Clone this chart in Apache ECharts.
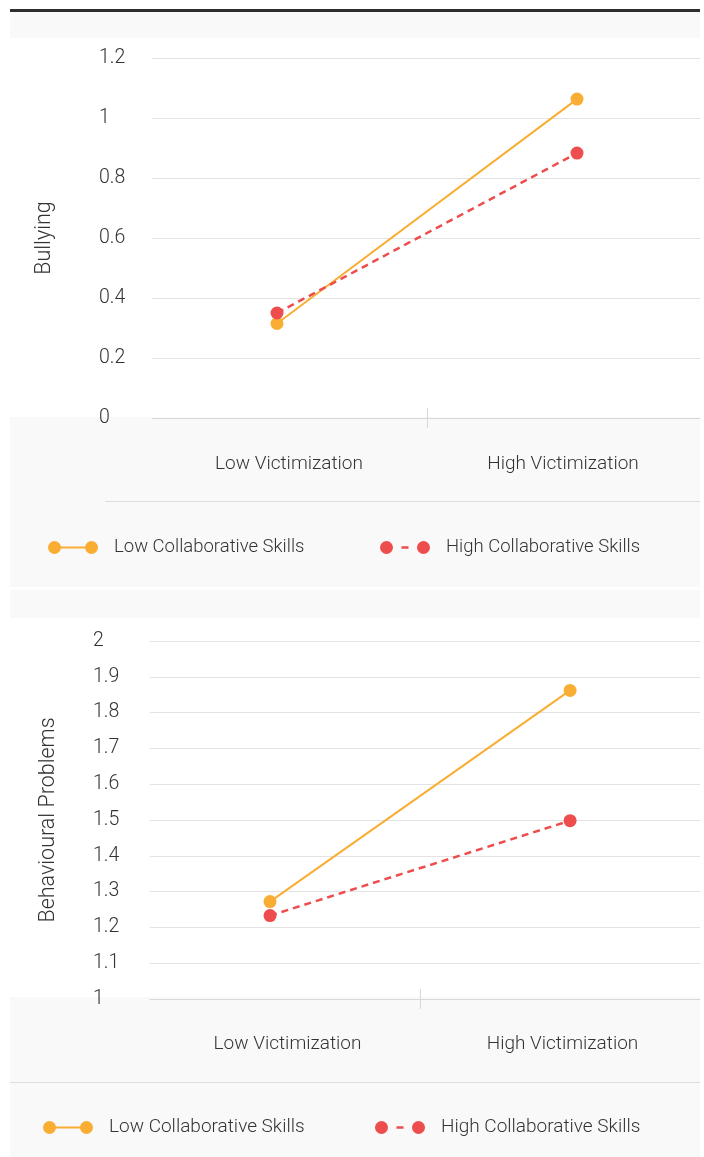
<!DOCTYPE html>
<html>
<head>
<meta charset="utf-8">
<script src="https://cdn.jsdelivr.net/npm/echarts@6/dist/echarts.min.js"></script>
<style>
  html, body { margin: 0; padding: 0; background: #fff; }
  #wrap { position: relative; width: 704px; height: 1157px; overflow: hidden; }
  .bg { position: absolute; background: #f9f9f9; }
  .rule { position: absolute; background: #dedede; height: 1px; }
  #chart { position: absolute; left: 0; top: 0; width: 704px; height: 1157px; }
</style>
</head>
<body>
<div id="wrap">
  <div style="position:absolute;left:10px;top:9px;width:690px;height:3px;background:#2e2e2e;"></div>
  <div class="bg" style="left:10px;top:12px;width:690px;height:26px;"></div>
  <div class="bg" style="left:10px;top:417px;width:690px;height:170px;"></div>
  <div class="rule" style="left:105px;top:501px;width:595px;"></div>
  <div class="bg" style="left:10px;top:590px;width:690px;height:28px;"></div>
  <div class="bg" style="left:10px;top:997px;width:690px;height:160px;"></div>
  <div class="rule" style="left:10px;top:1082px;width:690px;"></div>
  <div id="chart"></div>
</div>
<script>
// ---- data ----
const categories = ['Low Victimization', 'High Victimization'];
const seriesNames = ['Low Collaborative Skills', 'High Collaborative Skills'];
const yNames = ['Bullying', 'Behavioural Problems'];
const bullyingLowCollab = [0.315, 1.063];
const bullyingHighCollab = [0.35, 0.883];
const behaviourLowCollab = [1.272, 1.862];
const behaviourHighCollab = [1.233, 1.498];
const bullyingAxis = { min: 0, max: 1.2, interval: 0.2 };
const behaviourAxis = { min: 1, max: 2, interval: 0.1 };

// ---- styling ----
const ORANGE = '#f9ae33';
const RED = '#ee4d4d';
const FONT = 'Roboto';
const W = 300;
const TXT = '#333';
const GRIDC = '#e3e3e3';
const AXISC = '#d8d8d8';

const iconSolid = 'path://M0,6.5A6.5,6.5 0 1 1 13,6.5A6.5,6.5 0 1 1 0,6.5Z M37,6.5A6.5,6.5 0 1 1 50,6.5A6.5,6.5 0 1 1 37,6.5Z M12,5.5H38V7.5H12Z';
const iconDash = 'path://M0,6.5A6.5,6.5 0 1 1 13,6.5A6.5,6.5 0 1 1 0,6.5Z M37,6.5A6.5,6.5 0 1 1 50,6.5A6.5,6.5 0 1 1 37,6.5Z M21.5,5.3H28.5V7.7H21.5Z';

const toPts = arr => categories.map((c, i) => [i, arr[i]]);

const grids = [
  { left: 152, right: 4, top: 58, height: 360 },
  { left: 150, right: 4, top: 641, height: 358 }
];
const xRanges = [
  { min: -0.4167, max: 1.41 },
  { min: -0.4, max: 1.433 }
];
const yAxisCfg = [bullyingAxis, behaviourAxis];
const labelMargins = [53, 57];
const nameGaps = [96, 90];
const xLabelMargins = [37, 36];

const xAxis = [];
const yAxis = [];
grids.forEach((g, gi) => {
  xAxis.push({
    type: 'category', gridIndex: gi, data: categories, boundaryGap: true, position: 'bottom',
    axisLine: { show: false }, axisTick: { show: false },
    axisLabel: { fontFamily: FONT, fontWeight: W, fontSize: 19, color: TXT, margin: xLabelMargins[gi] }
  });
  xAxis.push({
    type: 'value', gridIndex: gi, min: xRanges[gi].min, max: xRanges[gi].max, position: 'bottom', offset: 0,
    axisLine: { show: true, lineStyle: { color: AXISC, width: 1 } },
    axisTick: { show: true, customValues: [0.5], length: 10, lineStyle: { color: AXISC } },
    axisLabel: { show: false }, splitLine: { show: false }
  });
  xAxis.push({
    type: 'value', gridIndex: gi, min: xRanges[gi].min, max: xRanges[gi].max, position: 'bottom', offset: 0,
    axisLine: { show: false },
    axisTick: { show: true, inside: true, customValues: [0.5], length: 10, lineStyle: { color: AXISC } },
    axisLabel: { show: false }, splitLine: { show: false }
  });
  yAxis.push({
    type: 'value', gridIndex: gi, position: 'left',
    min: yAxisCfg[gi].min, max: yAxisCfg[gi].max, interval: yAxisCfg[gi].interval,
    name: yNames[gi], nameLocation: 'middle', nameGap: nameGaps[gi], nameRotate: 90,
    nameTextStyle: { fontFamily: FONT, fontWeight: W, fontSize: 21.5, color: TXT },
    axisLine: { show: false }, axisTick: { show: false },
    axisLabel: { fontFamily: FONT, fontWeight: W, fontSize: 19.5, color: TXT, align: 'left',
                 margin: labelMargins[gi], lineHeight: 24, padding: [7, 0, 0, 0] },
    splitLine: { show: true, lineStyle: { color: GRIDC, width: 1 } }
  });
});

function lineSeries(name, data, gi, color, dashed) {
  return {
    name: name, type: 'line', xAxisIndex: gi * 3 + 1, yAxisIndex: gi,
    data: toPts(data), symbol: 'circle', symbolSize: 13, showSymbol: true,
    itemStyle: { color: color },
    lineStyle: { color: color, width: dashed ? 2.5 : 2, type: dashed ? [7, 5] : 'solid' },
    emphasis: { disabled: true }, animation: false, z: 3
  };
}

const series = [
  lineSeries(seriesNames[0], bullyingLowCollab, 0, ORANGE, false),
  lineSeries(seriesNames[1], bullyingHighCollab, 0, RED, true),
  lineSeries(seriesNames[0], behaviourLowCollab, 1, ORANGE, false),
  lineSeries(seriesNames[1], behaviourHighCollab, 1, RED, true)
];

function legendItem(idx, left, top, size) {
  const icon = idx === 0 ? iconSolid : iconDash;
  const color = idx === 0 ? ORANGE : RED;
  return {
    left: left, top: top, padding: 0, orient: 'horizontal', itemWidth: 50, itemHeight: 13,
    selectedMode: false,
    data: [{ name: seriesNames[idx], icon: icon, itemStyle: { color: color, borderWidth: 0 }, lineStyle: { width: 0 } }],
    textStyle: { fontFamily: FONT, fontWeight: W, fontSize: size, color: TXT, padding: [0, 0, 0, 11] }
  };
}

const chart = echarts.init(document.getElementById('chart'), null, { renderer: 'canvas' });
chart.setOption({
  backgroundColor: 'transparent',
  animation: false,
  grid: grids,
  xAxis: xAxis,
  yAxis: yAxis,
  legend: [
    legendItem(0, 48, 538, 18.5), legendItem(1, 380, 538, 18.5),
    legendItem(0, 43, 1118, 19), legendItem(1, 375, 1118, 19)
  ],
  series: series
});
</script>
</body>
</html>
